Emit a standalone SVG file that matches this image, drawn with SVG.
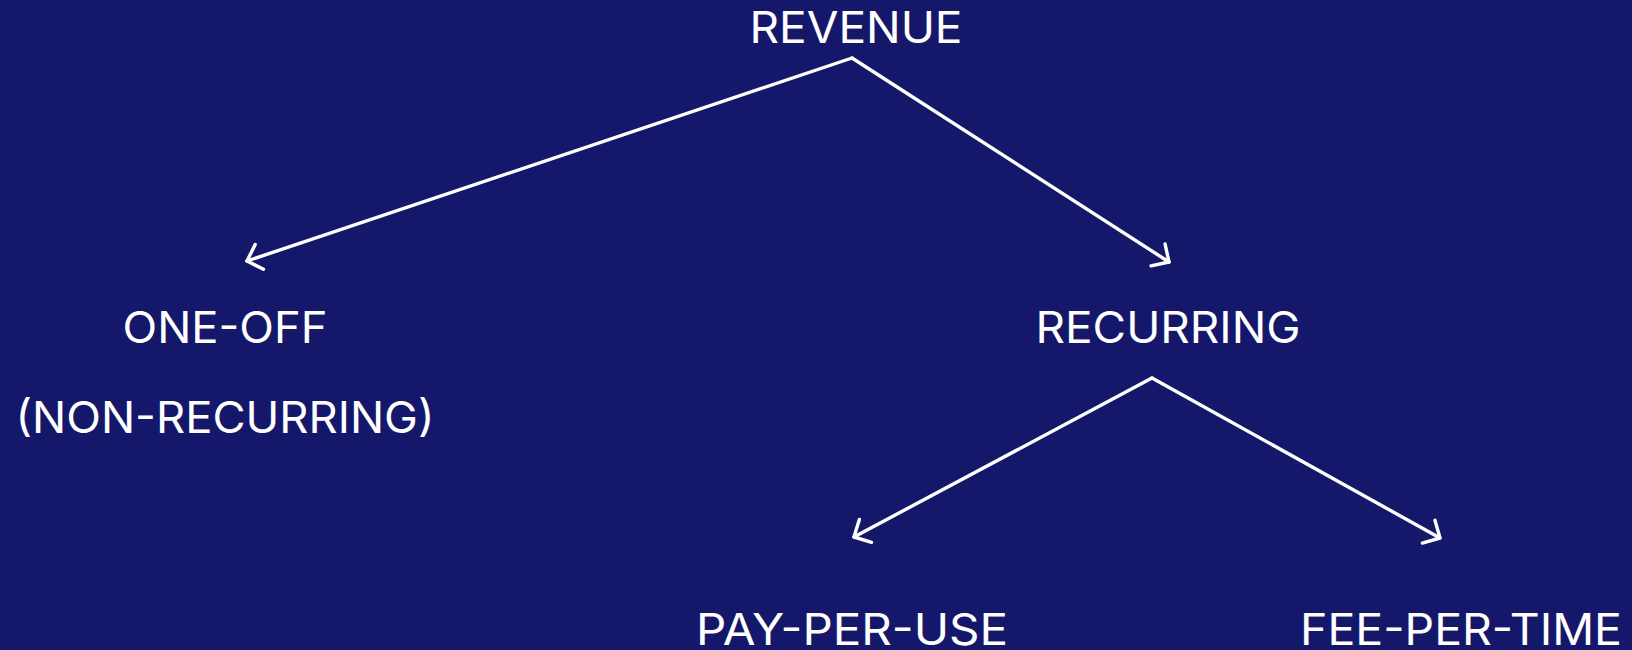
<svg xmlns="http://www.w3.org/2000/svg" width="1632" height="650" viewBox="0 0 1632 650">
  <style>
    .label { font-family: Inter, Roboto, "Liberation Sans", sans-serif; font-size: 44px; fill: #ffffff; text-anchor: middle; }
    .edge { stroke: #ffffff; stroke-width: 3.4; fill: none; stroke-linecap: round; marker-end: url(#chevron); }
  </style>
  <defs>
    <marker id="chevron" markerUnits="userSpaceOnUse" viewBox="-16 -16 20 32" refX="0" refY="0" markerWidth="20" markerHeight="32" orient="auto" overflow="visible">
      <path d="M -13 -13 L 0 0 L -13 13" fill="none" stroke="#ffffff" stroke-width="3.4" stroke-linecap="round" stroke-linejoin="round"/>
    </marker>
  </defs>
  <rect width="1632" height="650" fill="#15186a"/>

  <g id="connectors">
    <line class="edge" x1="852" y1="58" x2="247" y2="261"/>
    <line class="edge" x1="852" y1="58" x2="1169" y2="262"/>
    <line class="edge" x1="1152" y1="378" x2="854" y2="537"/>
    <line class="edge" x1="1152" y1="378" x2="1440" y2="538"/>
  </g>

  <g id="revenue">
    <text class="label" x="856" y="43" textLength="213" lengthAdjust="spacingAndGlyphs">REVENUE</text>
  </g>
  <g id="one-off">
    <text class="label" x="225" y="343" textLength="205" lengthAdjust="spacingAndGlyphs">ONE-OFF</text>
    <text class="label" x="225" y="433" textLength="419" lengthAdjust="spacingAndGlyphs">(NON-RECURRING)</text>
  </g>
  <g id="recurring">
    <text class="label" x="1168" y="343" textLength="265" lengthAdjust="spacingAndGlyphs">RECURRING</text>
  </g>
  <g id="pay-per-use">
    <text class="label" x="852" y="645" textLength="312" lengthAdjust="spacingAndGlyphs">PAY-PER-USE</text>
  </g>
  <g id="fee-per-time">
    <text class="label" x="1461" y="645" textLength="322" lengthAdjust="spacingAndGlyphs">FEE-PER-TIME</text>
  </g>
</svg>
